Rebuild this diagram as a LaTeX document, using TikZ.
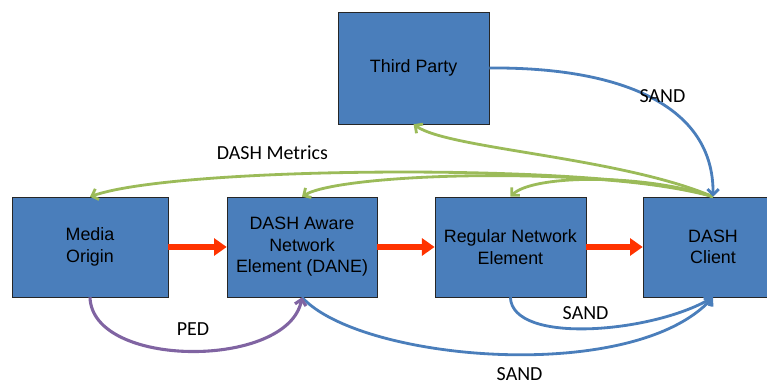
\documentclass[tikz,border=0pt]{standalone}
\usepackage{fontspec}
\setmainfont{Liberation Sans}
\newfontfamily\labelfont{Carlito}
\usepackage{xcolor}
\usetikzlibrary{arrows.meta,positioning}
\definecolor{BoxBlue}{RGB}{74,126,187}
\definecolor{SandBlue}{RGB}{74,126,187}
\definecolor{MetricGreen}{RGB}{155,187,89}
\definecolor{PedPurple}{RGB}{128,100,162}
\definecolor{FlowRed}{RGB}{255,51,0}

\begin{document}
\begin{tikzpicture}[->,>={Straight Barb[length=4pt,width=8pt]},
    box/.style={draw=black!85, fill=BoxBlue, align=center, inner sep=0pt,
        minimum width=3.9cm, minimum height=2.5cm, font=\fontsize{12.7}{15.3}\selectfont},
    flow/.style={-{Triangle[length=9pt,width=12pt]}, line width=4pt, FlowRed},
    sand/.style={line width=2pt, SandBlue},
    metric/.style={line width=2pt, MetricGreen},
    ped/.style={line width=2.2pt, PedPurple},
    lbl/.style={font=\labelfont\fontsize{14.2}{17}\selectfont}]
            \useasboundingbox (0,0) rectangle (19.175,9.625);

            % Draw the boxes
            \node[box, minimum width=3.775cm, minimum height=2.8cm] (third) at (10.34,7.925) {Third Party};
            \node[box] (origin) at (2.25,3.45) {Media\\Origin};
            \node[box, minimum width=3.75cm] (dane) at (7.55,3.45) {DASH Aware\\Network\\Element (DANE)};
            \node[box, minimum width=3.775cm] (regular) at (12.76,3.45) {Regular Network\\Element};
            \node[box, minimum width=3.5cm] (client) at (17.825,3.45) {DASH\\Client};

            % Draw the media flow
            \foreach \source/\dest in {origin/dane, dane/regular, regular/client}{
                \draw[flow] (\source.east) -- (\dest.west);
            }

            % Draw the metrics reports
            \draw[metric] (client.north) .. controls (15.5,5.7) and (11.2,5.9) .. (third.south);
            \draw[metric] (client.north) .. controls (15.5,5.55) and (4.5,5.5) .. (origin.north);
            \draw[metric] (client.north) .. controls (15.0,5.5) and (8.5,5.3) .. (dane.north);
            \draw[metric] (client.north) .. controls (16.0,5.3) and (13.3,5.25) .. (regular.north);

            % Draw the SAND messages
            \draw[sand] (third.east) .. controls (15.5,7.95) and (17.85,7.0) .. (client.north);
            \draw[sand] (regular.south) .. controls (12.8,1.0) and (16.3,1.3) .. (client.south);
            \draw[sand] (dane.south) .. controls (9.0,0.6) and (15.8,0.0) .. (client.south);

            % Draw the PED link
            \draw[ped] (origin.south) .. controls (2.3,0.4) and (7.2,0.4) .. (dane.south);

            % Draw the labels
            \node[lbl] (metrics) at (6.81,5.81) {DASH Metrics};
            \node[lbl] (sandtop) at (16.56,7.21) {SAND};
            \node[lbl] (pedlabel) at (4.825,1.4) {PED};
            \node[lbl] (sandmid) at (14.64,1.79) {SAND};
            \node[lbl, anchor=base, inner sep=0pt] (sandlow) at (12.99,0.1) {SAND};
\end{tikzpicture}
\end{document}
